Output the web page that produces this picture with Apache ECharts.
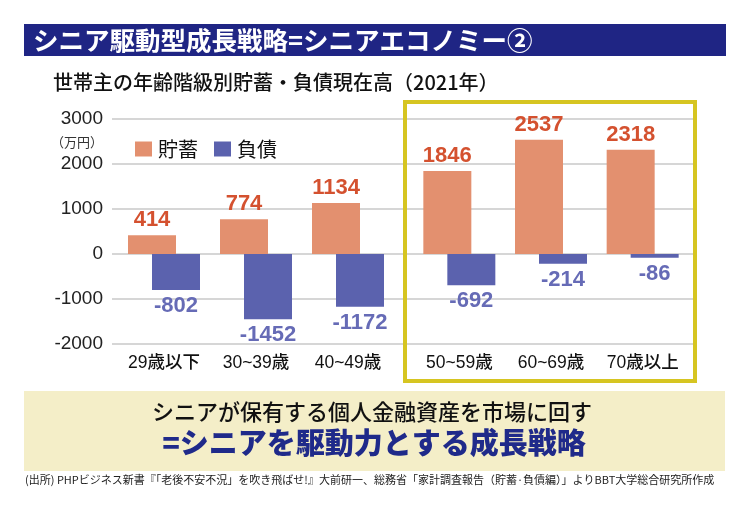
<!DOCTYPE html>
<html>
<head>
<meta charset="utf-8">
<script src="https://cdn.jsdelivr.net/npm/echarts@6/dist/echarts.min.js"></script>
<style>
html,body{margin:0;padding:0;background:#fff;}
#c{width:750px;height:516px;}
</style>
</head>
<body>
<div id="c"></div>
<script>
var categories = ['29歳以下', '30~39歳', '40~49歳', '50~59歳', '60~69歳', '70歳以上'];
var savings = [414, 774, 1134, 1846, 2537, 2318];
var debts = [-802, -1452, -1172, -692, -214, -86];
var yTicks = [-2000, -1000, 0, 1000, 2000, 3000];
var seriesNames = ['貯蓄', '負債'];

var JP = "'Noto Sans CJK JP', 'Noto Sans', sans-serif";
var NUM = "'Liberation Sans', 'Noto Sans CJK JP', sans-serif";
var orange = '#e3906f', blue = '#5b62ae';
var orangeLbl = '#d4512f', blueLbl = '#666bb6';

var chart = echarts.init(document.getElementById('c'), null, {renderer: 'canvas'});

var yMin = yTicks[0], yMax = yTicks[yTicks.length - 1], yInt = yTicks[1] - yTicks[0];
var gTop = 119, gBottom = 172;

function hiddenY(idx) {
  return {gridIndex: idx, type: 'value', min: yMin, max: yMax, interval: yInt,
    axisLabel: {show: false}, axisLine: {show: false}, axisTick: {show: false}, splitLine: {show: false}};
}
function catX(idx, cats) {
  return {gridIndex: idx, type: 'category', data: cats,
    axisLine: {show: false}, axisTick: {show: false},
    axisLabel: {interval: 0, hideOverlap: false, margin: 10, fontSize: 17.5, fontWeight: 500, color: '#111', fontFamily: NUM}};
}
function barSeries(name, idx, data, color, lblColor, pos) {
  return {name: name, type: 'bar', xAxisIndex: idx, yAxisIndex: idx, data: data,
    barWidth: 48, barGap: '-50%', itemStyle: {color: color},
    label: {show: true, position: pos, distance: pos === 'top' ? 4 : 5,
      color: lblColor, fontSize: 22, fontWeight: 'bold', fontFamily: NUM}};
}

var option = {
  backgroundColor: '#fff',
  animation: false,
  legend: {
    data: seriesNames, left: 130, top: 134, itemWidth: 17, itemHeight: 15, itemGap: 16,
    textStyle: {fontSize: 20, color: '#111', fontFamily: JP, padding: [0, 0, 0, 1]},
    icon: 'rect'
  },
  grid: [
    {left: 112, right: 57, top: gTop, bottom: gBottom},
    {left: 118, width: 276, top: gTop, bottom: gBottom},
    {left: 413.5, width: 275, top: gTop, bottom: gBottom}
  ],
  xAxis: [
    {gridIndex: 0, type: 'category', data: [''], show: false},
    catX(1, categories.slice(0, 3)),
    catX(2, categories.slice(3))
  ],
  yAxis: [
    {gridIndex: 0, type: 'value', min: yMin, max: yMax, interval: yInt,
      axisLine: {show: false}, axisTick: {show: false},
      axisLabel: {fontSize: 19, color: '#222', fontFamily: NUM, margin: 9,
        formatter: function (v) { return String(v); }},
      splitLine: {lineStyle: {color: '#c9c9c9', width: 1.5}}},
    hiddenY(1), hiddenY(2)
  ],
  series: [
    barSeries(seriesNames[0], 1, savings.slice(0, 3), orange, orangeLbl, 'top'),
    barSeries(seriesNames[1], 1, debts.slice(0, 3), blue, blueLbl, 'bottom'),
    barSeries(seriesNames[0], 2, savings.slice(3), orange, orangeLbl, 'top'),
    barSeries(seriesNames[1], 2, debts.slice(3), blue, blueLbl, 'bottom')
  ],
  graphic: [
    {type: 'rect', shape: {x: 24, y: 24, width: 702, height: 32}, style: {fill: '#1f2584'}, z: 0},
    {type: 'text', x: 33, y: 40, style: {text: 'シニア駆動型成長戦略=シニアエコノミー②', fill: '#fff',
      font: "bold 25.5px 'Noto Sans CJK JP', sans-serif", textVerticalAlign: 'middle'}},
    {type: 'text', x: 53, y: 82, style: {text: '世帯主の年齢階級別貯蓄・負債現在高（2021年）', fill: '#111',
      font: "500 20px 'Noto Sans CJK JP', sans-serif", textVerticalAlign: 'middle'}},
    {type: 'text', x: 103, y: 142, style: {text: '（万円）', fill: '#333',
      font: "13px 'Noto Sans CJK JP', sans-serif", textAlign: 'right', textVerticalAlign: 'middle'}},
    {type: 'rect', shape: {x: 405, y: 102, width: 290, height: 279},
      style: {fill: 'none', stroke: '#d6c521', lineWidth: 4}, z: 10},
    {type: 'rect', shape: {x: 24, y: 391, width: 701, height: 80}, style: {fill: '#f4eec8'}, z: 0},
    {type: 'text', x: 372, y: 412, style: {text: 'シニアが保有する個人金融資産を市場に回す', fill: '#111',
      font: "500 22px 'Noto Sans CJK JP', sans-serif", textAlign: 'center', textVerticalAlign: 'middle'}},
    {type: 'text', x: 374, y: 443, style: {text: '=シニアを駆動力とする成長戦略', fill: '#1f2a8a',
      font: "900 29px 'Noto Sans CJK JP', sans-serif", textAlign: 'center', textVerticalAlign: 'middle'}},
    {type: 'text', x: 25, y: 480, style: {text: '(出所) PHPビジネス新書『「老後不安不況」を吹き飛ばせ!』大前研一、総務省「家計調査報告（貯蓄·負債編）」よりBBT大学総合研究所作成', fill: '#222',
      font: "11px 'Noto Sans CJK JP', sans-serif", textVerticalAlign: 'middle'}}
  ]
};
chart.setOption(option);
</script>
</body>
</html>
